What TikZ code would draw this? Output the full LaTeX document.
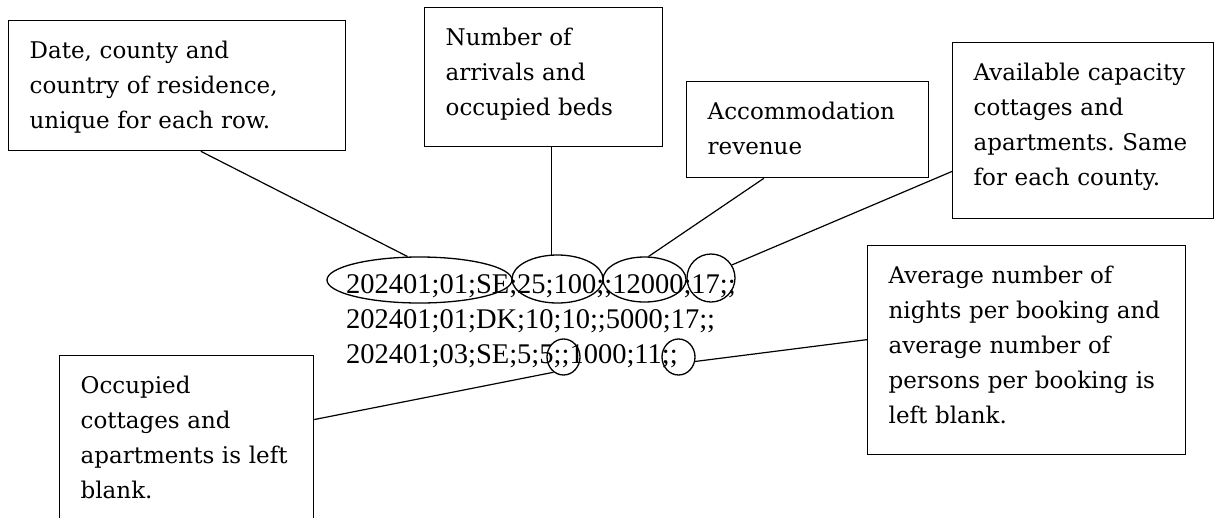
\documentclass[tikz,border=0pt]{standalone}
\usepackage{fontspec}
\setmainfont{DejaVu Serif}
\newfontfamily\rowfont{Liberation Serif}
\usetikzlibrary{calc,shapes.geometric}
\frenchspacing
\tikzset{
  note/.style={draw, line width=1.3pt, anchor=north west, inner xsep=21pt, inner ysep=0pt,
    align=left, text height=38pt, font=\fontsize{23}{35}\selectfont},
  ring/.style={draw, ellipse, line width=1.3pt, inner sep=0pt},
  link/.style={line width=1.2pt},
}

\begin{document}
\begin{tikzpicture}[x=1pt,y=-1pt]
        \useasboundingbox (0,0) rectangle (1217,517);
        \node[note, text width=295pt, text depth=92pt] (date) at (8,20) {Date, county and\\country of residence,\\unique for each row.};
        \node[note, text width=196pt, text depth=101pt] (beds) at (424,7) {Number of\\arrivals and\\occupied beds};
        \node[note, text width=200pt, text depth=58pt] (revenue) at (686,81) {Accommodation\\revenue};
        \node[note, text width=219pt, text depth=138pt] (capacity) at (952,42) {Available capacity\\cottages and\\apartments. Same\\for each county.};
        \node[note, text width=276pt, text depth=171pt] (average) at (867,245) {Average number of\\nights per booking and\\average number of\\persons per booking is\\left blank.};
        \node[note, text width=212pt, text depth=137pt] (occupied) at (59,355) {Occupied\\cottages and\\apartments is left\\blank.};
        \node[anchor=base west, inner sep=0pt, text width=420pt, align=left, font=\rowfont\fontsize{28.5}{35}\selectfont] (rows) at (346,293) {202401;01;SE;25;100;;12000;17;;\\202401;01;DK;10;10;;5000;17;;\\202401;03;SE;5;5;;1000;11;;};
        \node[ring, minimum width=185pt, minimum height=46pt] (e1) at (419.5,280) {};
        \node[ring, minimum width=91pt, minimum height=48pt] (e2) at (557.5,279) {};
        \node[ring, minimum width=83pt, minimum height=45pt] (e3) at (644.5,279.5) {};
        \node[ring, minimum width=48pt, minimum height=48pt] (e4) at (711,278) {};
        \node[ring, minimum width=33pt, minimum height=36pt] (e5) at (563.5,357) {};
        \node[ring, minimum width=33pt, minimum height=36pt] (e6) at (678.5,357) {};
        \draw[link] ($(date.south west)!.57!(date.south east)$) -- (e1.117);
        \draw[link] (e2.103 |- beds.south) -- (e2.103);
        \draw[link] ($(revenue.south west)!.32!(revenue.south east)$) -- (e3.80);
        \draw[link] ($(capacity.north west)!.73!(capacity.south west)$) -- (e4.32);
        \draw[link] ($(average.north west)!.45!(average.south west)$) -- (e6.-15);
        \draw[link] ($(occupied.north east)!.366!(occupied.south east)$) -- (e5.237);
    \end{tikzpicture}
\end{document}
